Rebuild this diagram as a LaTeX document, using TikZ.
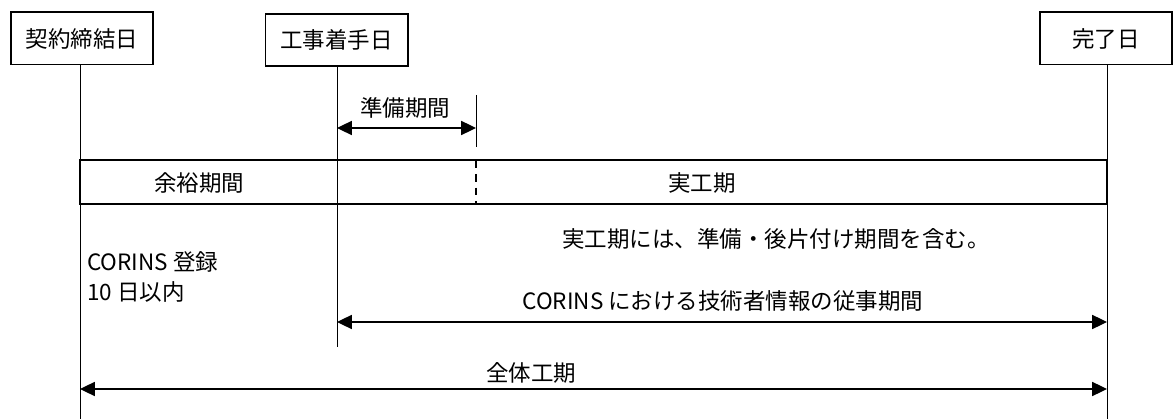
\documentclass[tikz,border=0pt]{standalone}
\usepackage{fontspec}
\setmainfont{Noto Sans CJK JP}
\usetikzlibrary{positioning,arrows.meta}
\tikzset{date node/.style={draw,line width=1.4pt,minimum width=101pt,minimum height=37pt,inner sep=0pt,font=\fontsize{16}{20}\selectfont},
  text node/.style={inner sep=0pt,font=\fontsize{16}{20}\selectfont},
  time line/.style={line width=0.7pt},
  period arrow/.style={line width=0.9pt,{Triangle[length=10.5pt,width=10pt]}-{Triangle[length=10.5pt,width=10pt]}},
  period bar/.style={line width=1.6pt}}

\begin{document}
\begin{tikzpicture}[x=0.025cm,y=-0.025cm]
  \useasboundingbox (0,0) rectangle (1173,419);
  % dates
  \node[date node] (keiyaku) at (82,38.5) {契約締結日};
  \node[date node] (chakushu) at (336.5,40) {工事着手日};
  \node[date node,minimum width=94pt] (kanryo) at (1106,38.5) {完了日};

  % ends of the time lines
  \coordinate (keiyaku end) at (80,419);
  \coordinate (chakushu end) at (337,347);
  \coordinate (kanryo end) at (1107,419);
  \coordinate (prep top) at (476,95);
  \coordinate (prep bottom) at (476,147);

  \draw[time line] (keiyaku.south -| keiyaku end) -- (keiyaku end);
  \draw[time line] (chakushu.south -| chakushu end) -- (chakushu end);
  \draw[time line] (kanryo.south -| kanryo end) -- (kanryo end);
  \draw[time line] (prep top) -- (prep bottom);

  % preparation
  \node[text node] (prep) at (405,108) {準備期間};
  \draw[period arrow] (chakushu end |- 0,128) -- (prep bottom |- 0,128);

  % bar
  \coordinate (bar nw) at (80,160);
  \coordinate (bar se) at (1107,204);
  \draw[period bar] (bar nw) rectangle (bar se);
  \draw[period bar,dash pattern=on 5.6pt off 4.2pt] (prep bottom |- bar nw) -- (prep bottom |- bar se);
  \node[text node] (yoyuu) at (199,183) {余裕期間};
  \node[text node] (jikouki) at (702,183) {実工期};

  % notes
  \node[text node,anchor=west] (note) at (562,239) {実工期には、準備・後片付け期間を含む。};
  \node[text node,anchor=west,align=left] (touroku) at (87,277) {CORINS 登録\\[1pt]10 日以内};
  \node[text node] (juuji) at (723,301) {CORINS における技術者情報の従事期間};
  \draw[period arrow] (chakushu end |- 0,322) -- (kanryo end |- 0,322);
  \node[text node] (zentai) at (531,373) {全体工期};
  \draw[period arrow] (keiyaku end |- 0,389) -- (kanryo end |- 0,389);
\end{tikzpicture}
\end{document}
